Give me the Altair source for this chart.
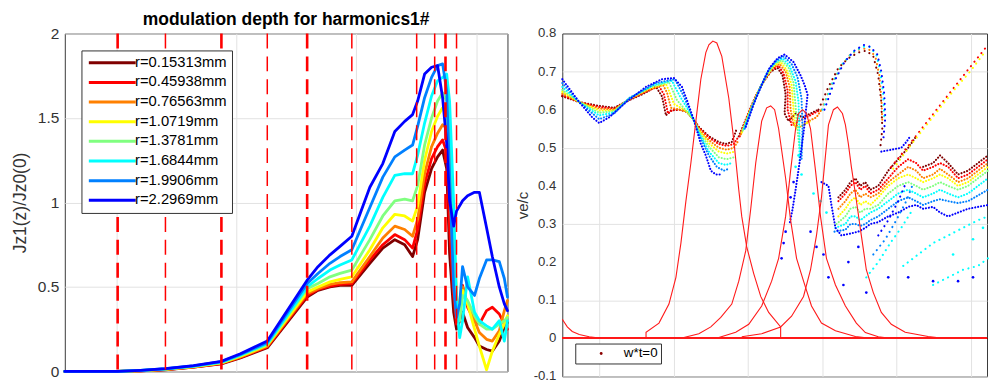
import altair as alt
import pandas as pd

# ---------------- left panel: modulation depth of the 1st harmonic ----------------
RADII = ["r=0.15313mm", "r=0.45938mm", "r=0.76563mm", "r=1.0719mm",
         "r=1.3781mm", "r=1.6844mm", "r=1.9906mm", "r=2.2969mm"]
JET8 = ["#800000", "#ff0000", "#ff8000", "#ffff00", "#80ff80", "#00ffff", "#0080ff", "#0000ff"]

# axial positions (mm)
Z_MM = [28.6, 50.6, 60.2, 70.5, 82.2, 93.8, 101.7, 112.9, 129.5, 134.0, 139.0, 143.2, 148.1,
        155.6, 161.0, 166.0, 170.1, 173.4, 175.5, 178.4, 181.3, 183.8, 185.9, 187.6, 188.8,
        190.5, 191.7, 193.0, 194.2, 196.3, 199.2, 201.2, 204.2, 206.6, 209.5, 211.6, 212.9]

DEPTH_R1 = [0, 0, 0.004, 0.01, 0.025, 0.045, 0.08, 0.14, 0.44, 0.48, 0.50, 0.51, 0.51, 0.64, 0.73,
            0.78, 0.75, 0.68, 0.78, 1.06, 1.20, 1.27, 1.31, 1.20, 0.70, 0.35, 0.25, 0.30, 0.35,
            0.26, 0.20, 0.15, 0.13, 0.12, 0.18, 0.26, 0.29]
DEPTH_R2 = [0, 0, 0.004, 0.011, 0.026, 0.047, 0.083, 0.145, 0.45, 0.485, 0.505, 0.515, 0.52, 0.66,
            0.75, 0.81, 0.78, 0.73, 0.84, 1.11, 1.26, 1.33, 1.37, 1.30, 0.85, 0.45, 0.28, 0.32,
            0.51, 0.38, 0.30, 0.28, 0.36, 0.38, 0.34, 0.28, 0.25]
DEPTH_R3 = [0, 0, 0.005, 0.012, 0.027, 0.049, 0.086, 0.15, 0.46, 0.49, 0.515, 0.525, 0.53, 0.68,
            0.79, 0.86, 0.84, 0.80, 0.90, 1.17, 1.33, 1.41, 1.46, 1.44, 1.10, 0.60, 0.32, 0.35,
            0.50, 0.40, 0.30, 0.23, 0.19, 0.18, 0.24, 0.36, 0.42]
DEPTH_R4 = [0, 0, 0.005, 0.013, 0.028, 0.051, 0.09, 0.155, 0.47, 0.50, 0.53, 0.545, 0.56, 0.72,
            0.85, 0.93, 0.92, 0.89, 0.98, 1.25, 1.42, 1.51, 1.56, 1.55, 1.30, 0.85, 0.45, 0.35,
            0.48, 0.40, 0.25, 0.15, 0.01, 0.12, 0.22, 0.28, 0.33]
DEPTH_R5 = [0, 0, 0.005, 0.014, 0.03, 0.053, 0.094, 0.16, 0.49, 0.52, 0.56, 0.58, 0.60, 0.78,
            0.92, 1.01, 1.02, 1.01, 1.10, 1.34, 1.50, 1.60, 1.65, 1.60, 1.40, 0.85, 0.40, 0.30,
            0.45, 0.42, 0.33, 0.28, 0.25, 0.25, 0.28, 0.30, 0.32]
DEPTH_R6 = [0, 0, 0.006, 0.015, 0.031, 0.055, 0.098, 0.165, 0.50, 0.55, 0.60, 0.63, 0.66, 0.86,
            1.03, 1.16, 1.17, 1.17, 1.28, 1.47, 1.63, 1.72, 1.74, 1.76, 1.60, 1.00, 0.40, 0.20,
            0.30, 0.56, 0.35, 0.30, 0.27, 0.25, 0.30, 0.18, 0.30]
DEPTH_R7 = [0, 0, 0.006, 0.016, 0.033, 0.058, 0.10, 0.172, 0.52, 0.58, 0.64, 0.68, 0.72, 0.97,
            1.15, 1.27, 1.31, 1.34, 1.45, 1.62, 1.74, 1.81, 1.82, 1.66, 1.17, 0.50, 0.32, 0.40,
            0.62, 0.50, 0.45, 0.55, 0.66, 0.66, 0.65, 0.55, 0.44]
DEPTH_R8 = [0, 0, 0.007, 0.017, 0.035, 0.06, 0.105, 0.18, 0.54, 0.62, 0.69, 0.74, 0.80, 1.09,
            1.23, 1.42, 1.48, 1.52, 1.60, 1.76, 1.80, 1.81, 1.62, 1.35, 1.01, 0.86, 0.95, 0.98,
            1.01, 1.04, 1.06, 1.06, 0.85, 0.68, 0.50, 0.40, 0.36]

# cavity / gap boundaries (mm)
GAPS_MAJOR = [50.6, 93.8, 129.5, 187.1]
GAPS_MINOR = [70.5, 112.9, 148.1, 175.1, 182.6, 191.7]

# ---------------- right panel: electron velocity vs. position ----------------
PHASES = ["w*t=0", "w*t=pi/4", "w*t=pi/2", "w*t=3pi/4",
          "w*t=pi", "w*t=5pi/4", "w*t=3pi/2", "w*t=7pi/4"]

VE_TICKS = [-0.1, 0, 0.1, 0.2, 0.3, 0.4, 0.5, 0.6, 0.7, 0.8]
VE_TICK_TEXT = ["-0.1", "0", "0.1", "0.2", "0.3", "0.4", "0.5", "0.6", "0.7", "0.8"]

# densely populated branches, one list of segments per launch phase
VE_P0 = [
    [(0.504, 0.635), (0.732, 0.62), (1.0, 0.61), (1.201, 0.605), (1.402, 0.625), (1.576, 0.64),
     (1.764, 0.66), (1.845, 0.635), (1.898, 0.585), (1.965, 0.598), (2.072, 0.60), (2.180, 0.595),
     (2.273, 0.573), (2.340, 0.555), (2.475, 0.53), (2.609, 0.515), (2.702, 0.51), (2.783, 0.515),
     (2.850, 0.55)],
    [(2.877, 0.53), (2.984, 0.58), (3.091, 0.63), (3.198, 0.67), (3.306, 0.70), (3.399, 0.71),
     (3.466, 0.69), (3.507, 0.64), (3.493, 0.59), (3.547, 0.57), (3.641, 0.59), (3.735, 0.58),
     (3.842, 0.59), (3.949, 0.60)],
    [(4.217, 0.37), (4.311, 0.39), (4.378, 0.41), (4.445, 0.42), (4.512, 0.40), (4.579, 0.41),
     (4.646, 0.39), (4.753, 0.40), (4.887, 0.44), (5.021, 0.47), (5.155, 0.50), (5.262, 0.53)],
    [(5.356, 0.45), (5.490, 0.46), (5.584, 0.48), (5.692, 0.46), (5.826, 0.43), (5.960, 0.44),
     (6.094, 0.46), (6.228, 0.48)],
]
VE_P1 = [
    [(0.504, 0.638), (0.732, 0.62), (1.0, 0.607), (1.201, 0.603), (1.402, 0.626), (1.603, 0.645),
     (1.804, 0.662), (1.871, 0.64), (1.925, 0.59), (1.992, 0.60), (2.099, 0.60), (2.180, 0.594),
     (2.273, 0.573), (2.340, 0.553), (2.475, 0.527), (2.609, 0.51), (2.716, 0.505), (2.810, 0.51),
     (2.877, 0.53)],
    [(2.890, 0.53), (2.997, 0.585), (3.105, 0.635), (3.212, 0.675), (3.319, 0.705), (3.413, 0.715),
     (3.480, 0.695), (3.534, 0.65), (3.534, 0.60), (3.587, 0.56), (3.681, 0.57), (3.788, 0.58),
     (3.882, 0.59), (3.976, 0.60)],
    [(4.217, 0.36), (4.311, 0.38), (4.378, 0.40), (4.445, 0.41), (4.512, 0.39), (4.579, 0.40),
     (4.646, 0.38), (4.753, 0.39), (4.887, 0.42), (5.021, 0.45), (5.155, 0.47), (5.262, 0.46),
     (5.356, 0.44), (5.490, 0.45), (5.584, 0.46), (5.692, 0.45), (5.826, 0.42), (5.960, 0.43),
     (6.094, 0.45), (6.228, 0.47)],
]
VE_P2 = [
    [(0.504, 0.642), (0.732, 0.62), (1.0, 0.603), (1.201, 0.60), (1.402, 0.627), (1.643, 0.65),
     (1.858, 0.665), (1.912, 0.645), (1.965, 0.605), (2.046, 0.602), (2.180, 0.594), (2.273, 0.573),
     (2.340, 0.55), (2.475, 0.52), (2.609, 0.50), (2.716, 0.495), (2.810, 0.50), (2.877, 0.52)],
    [(2.903, 0.535), (3.011, 0.59), (3.118, 0.64), (3.225, 0.68), (3.332, 0.71), (3.426, 0.72),
     (3.507, 0.70), (3.560, 0.66), (3.574, 0.60), (3.614, 0.56), (3.708, 0.555), (3.815, 0.57),
     (3.922, 0.58), (3.989, 0.60)],
    [(4.217, 0.34), (4.311, 0.36), (4.378, 0.38), (4.445, 0.39), (4.512, 0.37), (4.579, 0.38),
     (4.646, 0.37), (4.753, 0.38), (4.887, 0.41), (5.021, 0.43), (5.155, 0.45), (5.262, 0.44),
     (5.356, 0.42), (5.490, 0.43), (5.584, 0.445), (5.692, 0.43), (5.826, 0.41), (5.960, 0.42),
     (6.094, 0.44), (6.228, 0.46)],
]
VE_P3 = [
    [(0.504, 0.647), (0.732, 0.62), (1.0, 0.598), (1.201, 0.598), (1.402, 0.628), (1.670, 0.655),
     (1.898, 0.668), (1.938, 0.65), (2.005, 0.615), (2.099, 0.605), (2.180, 0.595), (2.273, 0.573),
     (2.340, 0.547), (2.475, 0.512), (2.609, 0.49), (2.716, 0.485), (2.823, 0.49)],
    [(2.917, 0.54), (3.024, 0.595), (3.131, 0.645), (3.239, 0.685), (3.346, 0.715), (3.440, 0.725),
     (3.520, 0.705), (3.587, 0.665), (3.614, 0.60), (3.641, 0.55), (3.748, 0.56), (3.842, 0.57)],
    [(4.217, 0.32), (4.311, 0.34), (4.378, 0.36), (4.445, 0.37), (4.512, 0.35), (4.579, 0.36),
     (4.646, 0.35), (4.753, 0.37), (4.887, 0.40), (5.021, 0.42), (5.155, 0.43), (5.262, 0.42),
     (5.356, 0.41), (5.490, 0.42), (5.584, 0.43), (5.692, 0.42), (5.826, 0.40), (5.960, 0.41),
     (6.094, 0.43), (6.228, 0.45)],
]
VE_P4 = [
    [(0.504, 0.652), (0.732, 0.62), (1.0, 0.592), (1.201, 0.596), (1.402, 0.629), (1.697, 0.66),
     (1.938, 0.672), (1.979, 0.655), (2.046, 0.625), (2.126, 0.607), (2.273, 0.573), (2.340, 0.543),
     (2.475, 0.503), (2.609, 0.475), (2.716, 0.47), (2.810, 0.475)],
    [(2.930, 0.545), (3.038, 0.60), (3.145, 0.65), (3.252, 0.69), (3.359, 0.72), (3.453, 0.73),
     (3.547, 0.71), (3.614, 0.67), (3.641, 0.61), (3.668, 0.545), (3.694, 0.50)],
    [(4.190, 0.30), (4.311, 0.32), (4.378, 0.34), (4.445, 0.345), (4.512, 0.33), (4.579, 0.34),
     (4.646, 0.34), (4.753, 0.35), (4.887, 0.38), (5.021, 0.40), (5.155, 0.41), (5.262, 0.40),
     (5.356, 0.39), (5.490, 0.40), (5.584, 0.41), (5.692, 0.40), (5.826, 0.39), (5.960, 0.40),
     (6.094, 0.42), (6.228, 0.44)],
]
VE_P5 = [
    [(0.504, 0.66), (0.732, 0.62), (1.0, 0.585), (1.201, 0.593), (1.402, 0.63), (1.737, 0.665),
     (1.979, 0.676), (2.019, 0.66), (2.086, 0.635), (2.166, 0.61), (2.273, 0.573), (2.340, 0.54),
     (2.475, 0.49), (2.609, 0.46), (2.702, 0.455), (2.783, 0.46)],
    [(2.944, 0.55), (3.051, 0.605), (3.158, 0.655), (3.265, 0.70), (3.373, 0.725), (3.466, 0.735),
     (3.560, 0.715), (3.641, 0.675), (3.681, 0.62), (3.694, 0.53), (3.694, 0.46)],
    [(4.177, 0.29), (4.311, 0.30), (4.378, 0.32), (4.445, 0.32), (4.512, 0.31), (4.579, 0.32),
     (4.646, 0.33), (4.753, 0.34), (4.887, 0.36), (5.021, 0.38), (5.155, 0.39), (5.262, 0.38),
     (5.356, 0.37), (5.490, 0.38), (5.584, 0.39), (5.692, 0.38), (5.826, 0.37), (5.960, 0.38),
     (6.094, 0.40), (6.228, 0.42)],
]
VE_P6 = [
    [(0.504, 0.67), (0.732, 0.62), (1.0, 0.575), (1.201, 0.59), (1.402, 0.63), (1.764, 0.67),
     (2.019, 0.68), (2.059, 0.665), (2.126, 0.64), (2.193, 0.61), (2.273, 0.573), (2.340, 0.535),
     (2.475, 0.48), (2.582, 0.45), (2.676, 0.44), (2.743, 0.445)],
    [(2.957, 0.55), (3.064, 0.61), (3.172, 0.66), (3.279, 0.705), (3.386, 0.73), (3.480, 0.74),
     (3.587, 0.72), (3.668, 0.685), (3.721, 0.63), (3.735, 0.55), (3.721, 0.47)],
    [(4.164, 0.28), (4.311, 0.285), (4.378, 0.30), (4.445, 0.30), (4.512, 0.295), (4.579, 0.30),
     (4.646, 0.31), (4.753, 0.32), (4.887, 0.34), (5.021, 0.36), (5.155, 0.37), (5.262, 0.36),
     (5.356, 0.35), (5.490, 0.36), (5.584, 0.365), (5.692, 0.36), (5.826, 0.355), (5.960, 0.36),
     (6.094, 0.375), (6.228, 0.39)],
]
VE_P7 = [
    [(0.504, 0.68), (0.732, 0.62), (0.906, 0.58), (1.0, 0.565), (1.134, 0.58), (1.362, 0.62),
     (1.630, 0.66), (1.845, 0.68), (2.005, 0.683), (2.113, 0.66), (2.180, 0.625), (2.273, 0.573),
     (2.367, 0.51), (2.434, 0.48), (2.501, 0.44), (2.568, 0.43), (2.635, 0.43)],
    [(2.971, 0.555), (3.078, 0.615), (3.185, 0.665), (3.292, 0.71), (3.399, 0.735), (3.493, 0.745),
     (3.614, 0.725), (3.708, 0.69), (3.761, 0.665), (3.802, 0.64), (3.761, 0.56), (3.694, 0.46),
     (3.641, 0.39), (3.601, 0.34), (3.560, 0.30)],
    [(4.794, 0.49), (4.928, 0.495), (5.062, 0.50), (5.129, 0.515), (5.182, 0.53)],
    [(3.989, 0.41), (4.083, 0.40), (4.123, 0.35), (4.177, 0.29), (4.257, 0.27), (4.378, 0.275),
     (4.485, 0.28), (4.579, 0.29), (4.646, 0.30), (4.753, 0.305), (4.887, 0.32), (5.021, 0.33),
     (5.155, 0.345), (5.262, 0.35), (5.356, 0.34), (5.490, 0.345), (5.584, 0.33), (5.692, 0.32),
     (5.826, 0.33), (5.960, 0.34), (6.094, 0.345), (6.228, 0.35)],
]

# thinly populated branches (second arc, late diagonals)
SPARSE_P0 = [
    [(3.949, 0.60), (4.083, 0.66), (4.217, 0.71), (4.351, 0.735), (4.485, 0.75), (4.592, 0.755),
     (4.686, 0.74), (4.753, 0.69), (4.794, 0.62), (4.807, 0.55), (4.780, 0.50)],
]
SPARSE_P1 = [
    [(4.928, 0.45), (5.155, 0.505), (5.356, 0.555), (5.557, 0.605), (5.759, 0.655), (5.960, 0.705),
     (6.228, 0.77)],
]
SPARSE_P2 = [
    [(3.989, 0.60), (4.123, 0.665), (4.257, 0.715), (4.378, 0.745), (4.512, 0.76), (4.619, 0.76),
     (4.713, 0.74), (4.767, 0.69), (4.794, 0.63), (4.807, 0.57)],
]
SPARSE_P3 = [
    [(4.954, 0.445), (5.182, 0.505), (5.383, 0.555), (5.584, 0.605), (5.786, 0.655), (5.987, 0.70),
     (6.201, 0.755)],
]
SPARSE_P5 = [
    [(4.003, 0.60), (4.137, 0.67), (4.271, 0.72), (4.405, 0.75), (4.539, 0.765), (4.633, 0.765),
     (4.727, 0.745), (4.780, 0.70), (4.820, 0.64), (4.834, 0.58)],
    [(4.592, 0.16), (4.753, 0.20), (4.914, 0.25), (5.062, 0.29), (5.222, 0.34)],
    [(5.088, 0.19), (5.289, 0.22), (5.490, 0.25), (5.692, 0.27), (5.893, 0.29), (6.094, 0.31),
     (6.228, 0.32)],
    [(5.490, 0.14), (5.692, 0.16), (5.893, 0.18), (6.094, 0.19), (6.228, 0.21)],
]
SPARSE_P6 = [
    [(4.686, 0.22), (4.847, 0.26), (4.995, 0.31), (5.129, 0.36), (5.209, 0.40)],
]
SPARSE_P7 = [
    [(4.029, 0.60), (4.164, 0.675), (4.298, 0.725), (4.431, 0.755), (4.552, 0.77), (4.646, 0.765),
     (4.740, 0.745), (4.794, 0.70), (4.834, 0.64), (4.847, 0.58), (4.820, 0.52)],
    [(4.753, 0.27), (4.887, 0.31), (5.021, 0.36), (5.129, 0.41)],
]

# isolated particles off the main branches
STRAY_P7 = [(3.453, 0.21), (3.480, 0.25), (3.507, 0.28), (3.574, 0.37), (3.614, 0.41), (3.842, 0.28),
            (3.922, 0.24), (4.016, 0.22), (4.083, 0.16), (4.284, 0.14), (4.351, 0.20), (4.485, 0.24),
            (4.592, 0.12), (4.887, 0.16), (5.155, 0.16), (5.490, 0.15), (5.826, 0.15), (6.027, 0.16)]
STRAY_P5 = [(3.641, 0.45), (3.681, 0.48), (3.721, 0.43), (3.882, 0.38), (3.976, 0.36), (4.056, 0.33),
            (5.759, 0.22), (6.027, 0.26), (6.161, 0.29)]

# normalised gap field profiles
FIELD_0 = [(0.504, 0.05), (0.571, 0.03), (0.638, 0.018), (0.732, 0.01), (0.866, 0.004), (1.0, 0.001),
           (1.161, 0.0)]
FIELD_1 = [(1.630, 0.0), (1.630, 0.016), (1.804, 0.04), (1.938, 0.09), (2.032, 0.16), (2.099, 0.25),
           (2.166, 0.36), (2.233, 0.46), (2.300, 0.57), (2.367, 0.68), (2.434, 0.75), (2.475, 0.77),
           (2.528, 0.78), (2.582, 0.775), (2.649, 0.74), (2.743, 0.63), (2.810, 0.52), (2.877, 0.39),
           (2.917, 0.32), (2.984, 0.24), (3.078, 0.17), (3.172, 0.11), (3.279, 0.068), (3.440, 0.03),
           (3.440, 0.0)]
FIELD_2 = [(2.139, 0.002), (2.340, 0.012), (2.501, 0.03), (2.635, 0.055), (2.783, 0.09), (2.877, 0.15),
           (2.971, 0.23), (3.038, 0.34), (3.105, 0.46), (3.185, 0.57), (3.252, 0.605), (3.306, 0.61),
           (3.359, 0.60), (3.413, 0.55), (3.507, 0.42), (3.574, 0.31), (3.654, 0.21), (3.748, 0.15),
           (3.855, 0.085), (3.989, 0.04), (4.177, 0.02), (4.445, 0.005), (4.619, 0.001)]
FIELD_3 = [(2.609, 0.002), (2.836, 0.016), (3.011, 0.037), (3.185, 0.085), (3.319, 0.15), (3.413, 0.21),
           (3.507, 0.32), (3.574, 0.44), (3.641, 0.55), (3.681, 0.59), (3.735, 0.60), (3.788, 0.59),
           (3.842, 0.55), (3.909, 0.44), (3.976, 0.32), (4.056, 0.21), (4.177, 0.14), (4.311, 0.085),
           (4.458, 0.04), (4.579, 0.015), (4.753, 0.004), (4.914, 0.0)]
FIELD_4 = [(2.917, 0.004), (3.185, 0.012), (3.440, 0.03), (3.587, 0.058), (3.748, 0.11), (3.842, 0.18),
           (3.922, 0.27), (3.989, 0.37), (4.043, 0.48), (4.083, 0.56), (4.150, 0.60), (4.204, 0.607),
           (4.271, 0.59), (4.311, 0.56), (4.351, 0.51), (4.391, 0.45), (4.445, 0.38), (4.525, 0.27),
           (4.592, 0.18), (4.686, 0.12), (4.794, 0.068), (4.928, 0.037), (5.115, 0.016),
           (5.423, 0.005), (5.624, 0.0)]

FONT = "Liberation Sans"
TEXT = "#333333"
GRID = "#e2e2e2"

# ---------- tables ----------
depth = pd.DataFrame(
    [{"z": z, "jz": v, "radius": r}
     for r, vals in zip(RADII, [DEPTH_R1, DEPTH_R2, DEPTH_R3, DEPTH_R4,
                                DEPTH_R5, DEPTH_R6, DEPTH_R7, DEPTH_R8])
     for z, v in zip(Z_MM, vals)]
)


def branch_table(per_phase):
    rows = []
    for name, segs in zip(PHASES, per_phase):
        for k, seg in enumerate(segs):
            for j, (t, v) in enumerate(seg):
                rows.append({"phase": name, "seg": f"{name}/{k}", "t": t, "v": v, "j": j})
    return pd.DataFrame(rows)


dense = branch_table([VE_P0, VE_P1, VE_P2, VE_P3, VE_P4, VE_P5, VE_P6, VE_P7])
sparse = branch_table([SPARSE_P0, SPARSE_P1, SPARSE_P2, SPARSE_P3, [], SPARSE_P5, SPARSE_P6, SPARSE_P7])

stray = pd.DataFrame(
    [{"phase": PHASES[7], "t": t, "v": v} for t, v in STRAY_P7]
    + [{"phase": PHASES[5], "t": t, "v": v} for t, v in STRAY_P5]
)

field = pd.DataFrame(
    [{"gap": g, "t": t, "v": e, "j": j}
     for g, prof in enumerate([FIELD_0, FIELD_1, FIELD_2, FIELD_3, FIELD_4])
     for j, (t, e) in enumerate(prof)]
)

key = pd.DataFrame([{"label": PHASES[0], "t": VE_P0[0][0][0], "v": VE_P0[0][0][1]}])
ve_ticks = pd.DataFrame({"v": VE_TICKS, "label": VE_TICK_TEXT})

# ---------- left chart ----------
zx = alt.X("z:Q", scale=alt.Scale(domain=[28.6, 212.9], nice=False, zero=False),
           axis=alt.Axis(values=[50, 100, 150, 200], labels=False, ticks=False, domain=False,
                         title=None, grid=True, gridColor=GRID))

curves = alt.Chart(depth).mark_line(strokeWidth=2.8, strokeJoin="round", strokeCap="round").encode(
    x=zx,
    y=alt.Y("jz:Q", scale=alt.Scale(domain=[0, 2], nice=False),
            axis=alt.Axis(values=[0, 0.5, 1, 1.5, 2], format="~g", title="Jz1(z)/Jz0(0)",
                          titleX=-44, titleY=169.5, titleBaseline="middle", titleFontSize=17.5,
                          titleFontWeight="normal", titleColor=TEXT, labelFontSize=15.5,
                          labelColor=TEXT, labelPadding=6, labelOverlap=False, ticks=False,
                          domain=False, grid=True, gridColor=GRID)),
    color=alt.Color("radius:N", scale=alt.Scale(domain=RADII, range=JET8),
                    legend=alt.Legend(title=None, orient="none", legendX=16.7, legendY=17,
                                      symbolType="M-1,0L8.4,0", symbolSize=100,
                                      symbolStrokeWidth=3, labelFontSize=14.8, labelColor="#000",
                                      labelFont=FONT, labelOffset=34, rowPadding=3.7, padding=5,
                                      fillColor="white", strokeColor="#333333",
                                      labelLimit=300)),
)

gap_major = alt.Chart(pd.DataFrame({"z": GAPS_MAJOR})).mark_rule(
    color="#ff0000", strokeWidth=2.6, strokeDash=[15, 8]).encode(x=alt.X("z:Q"))
gap_minor = alt.Chart(pd.DataFrame({"z": GAPS_MINOR})).mark_rule(
    color="#ff0000", strokeWidth=1.5, strokeDash=[15, 8]).encode(x=alt.X("z:Q"))

left = alt.layer(curves, gap_major, gap_minor).properties(
    width=444, height=339,
    title=alt.TitleParams("modulation depth for harmonics1#", fontSize=17.5, fontWeight="bold",
                          font=FONT, color="#000000", anchor="middle", baseline="alphabetic",
                          frame="group", offset=-16),
)

# ---------- right chart ----------
tx = alt.X("t:Q", scale=alt.Scale(domain=[0.504, 6.215], nice=False, zero=False),
           axis=alt.Axis(values=[1, 2, 3, 4, 5, 6], labels=False, ticks=False, domain=False,
                         title=None, grid=True, gridColor=GRID))
vy = alt.Y("v:Q", scale=alt.Scale(domain=[-0.1, 0.8], nice=False),
           axis=alt.Axis(values=VE_TICKS, labels=False, title="ve/c", titleX=-40, titleY=172,
                         titleBaseline="middle", titleFontSize=15, titleFontWeight="normal",
                         titleColor=TEXT, ticks=False, domain=False, grid=True,
                         gridColor=GRID))
phase_color = alt.Color("phase:N", scale=alt.Scale(domain=PHASES, range=JET8), legend=None)

dense_dots = alt.Chart(dense).mark_line(strokeWidth=2.1, strokeCap="round", strokeJoin="round",
                                        strokeDash=[0.1, 2.9]).encode(
    x=tx, y=vy, color=phase_color, detail="seg:N", order="j:Q")

sparse_dots = alt.Chart(sparse).mark_line(strokeWidth=2.1, strokeCap="round", strokeJoin="round",
                                          strokeDash=[0.1, 5.5]).encode(
    x=tx, y=vy, color=phase_color, detail="seg:N", order="j:Q")

loose = alt.Chart(stray).mark_circle(size=7, opacity=1).encode(
    x=tx, y=vy, color=phase_color)

fields = alt.Chart(field).mark_line(color="#ff1a1a", strokeWidth=1.1).encode(
    x=tx, y=vy, detail="gap:N", order="j:Q")

zero_line = alt.Chart(field).mark_rule(color="#ff1a1a", strokeWidth=1.3).encode(y=alt.datum(0))

# tick labels of the velocity axis, placed through the same y scale
ve_labels = alt.Chart(ve_ticks).mark_text(
    align="right", baseline="middle", dx=-6, fontSize=13.2, font=FONT, color=TEXT
).encode(x=alt.value(0), y=vy, text="label:N")

key_mark = alt.Chart(key).mark_circle(size=4, opacity=1).encode(
    x=tx, y=vy,
    fill=alt.Fill("label:N", scale=alt.Scale(domain=[PHASES[0]], range=["#8b0000"]),
                  legend=alt.Legend(title=None, orient="none", legendX=13, legendY=311,
                                    symbolType="circle", symbolSize=8, symbolOffset=16,
                                    symbolStrokeWidth=0, labelOffset=16, labelFontSize=13.4,
                                    labelColor="#000", labelFont=FONT, padding=3.3,
                                    fillColor="white", strokeColor="#333333")),
)

right = alt.layer(dense_dots, sparse_dots, loose, fields, zero_line, ve_labels, key_mark).properties(
    width=426, height=344)

chart = alt.hconcat(left, right, spacing=55, bounds="flush").resolve_scale(
    color="independent", fill="independent"
).properties(
    padding={"left": 11, "top": 10, "right": 0, "bottom": 0}
).configure(
    font=FONT, background="white"
).configure_axis(
    labelOverlap=False
).configure_view(
    stroke="#3a3a3a", strokeWidth=1
)

chart.save("out.html", embed_options={"renderer": "svg", "actions": False})
